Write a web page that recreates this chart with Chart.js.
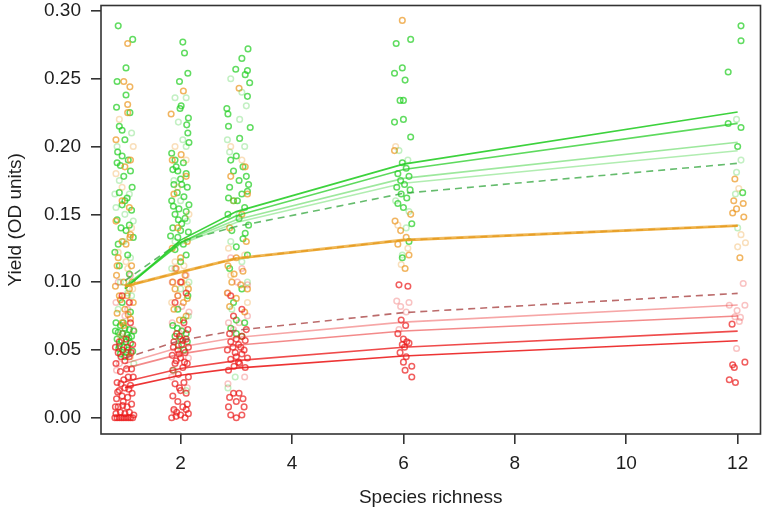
<!DOCTYPE html>
<html>
<head>
<meta charset="utf-8">
<title>Yield vs species richness</title>
<script src="https://cdn.jsdelivr.net/npm/chart.js@4.4.1/dist/chart.umd.min.js"></script>
<style>
  html, body { margin: 0; padding: 0; background: #fff; }
  #wrap { width: 766px; height: 509px; }
</style>
</head>
<body>
<div id="wrap"><canvas id="grafico"></canvas></div>
<script>
// Niveis de riqueza (eixo x) e marcas dos eixos
const richness = [1, 2, 3, 6, 12];
const xTicks = [2, 4, 6, 8, 10, 12];
const yTicks = [0, 0.05, 0.10, 0.15, 0.20, 0.25, 0.30];

// Curvas ajustadas (valor em cada nivel de riqueza)
const greenFit1 = [0.095, 0.131, 0.152, 0.187, 0.2254];
const greenFit2 = [0.0955, 0.129, 0.149, 0.183, 0.2171];
const greenFit3 = [0.097, 0.129, 0.146, 0.1765, 0.2031];
const greenFit4 = [0.097, 0.128, 0.144, 0.1729, 0.1969];
const greenFitDashed = [0.101, 0.130, 0.141, 0.1655, 0.1876];
const orangeFit1 = [0.0965, 0.107, 0.117, 0.1305, 0.1412];
const orangeFit2 = [0.0975, 0.108, 0.118, 0.1315, 0.1420];
const orangeFitDashed = [0.097, 0.1075, 0.1175, 0.131, 0.1416];
const redFit1 = [0.040, 0.0521, 0.0592, 0.0705, 0.0831];
const redFit2 = [0.0364, 0.0471, 0.0534, 0.064, 0.0750];
const redFit3 = [0.0265, 0.0363, 0.0421, 0.052, 0.0639];
const redFit4 = [0.0224, 0.0313, 0.0366, 0.0455, 0.0568];
const redFitDashed = [0.044, 0.057, 0.0645, 0.0775, 0.0917];

// Observacoes (x com jitter, y)
const greenStrong = [
  [0.88,0.289],[1.14,0.279],[1.02,0.258],[0.86,0.248],[1.02,0.238],[0.85,0.229],[1.09,0.225],[0.9,0.215],
  [0.95,0.212],[1.0,0.205],[0.87,0.196],[0.95,0.193],[1.06,0.19],[0.92,0.186],[1.1,0.182],[0.98,0.178],
  [1.13,0.17],[0.9,0.166],[1.04,0.162],[0.95,0.157],[1.12,0.153],[0.86,0.146],[0.93,0.14],[1.02,0.138],
  [1.15,0.133],[0.88,0.128],[1.05,0.12],[0.9,0.112],[1.08,0.106],[0.95,0.085],[1.1,0.078],
  [0.84,0.07],[0.92,0.068],[1.0,0.066],[1.08,0.065],[0.88,0.063],[0.96,0.062],[1.04,0.061],[1.12,0.06],
  [0.86,0.058],[0.94,0.057],[1.02,0.056],[1.1,0.055],[0.9,0.053],[0.98,0.052],[1.06,0.05],[1.14,0.049],
  [0.92,0.047],[1.0,0.045],[0.83,0.064],[0.97,0.07],[1.07,0.059],[1.16,0.064],[0.89,0.051],[1.03,0.048],
  [0.86,0.188],[1.0,0.16],[1.08,0.142],[0.82,0.122],
  [2.04,0.277],[2.07,0.269],[2.13,0.254],[1.98,0.248],[2.01,0.23],[1.99,0.228],[2.14,0.221],[2.11,0.216],
  [2.13,0.21],[2.15,0.203],[1.84,0.195],[1.9,0.19],[2.05,0.188],[1.86,0.183],[1.95,0.182],[2.1,0.18],
  [2.0,0.176],[1.88,0.172],[2.12,0.17],[1.94,0.166],[2.06,0.163],[1.84,0.16],[2.15,0.157],[1.97,0.154],
  [1.9,0.15],[2.08,0.147],[2.02,0.143],[1.86,0.14],[2.14,0.137],[1.95,0.133],[2.05,0.128],[1.9,0.124],
  [2.1,0.12],[2.0,0.115],[2.13,0.09],[1.95,0.08],[2.05,0.072],[1.92,0.185],[2.02,0.172],[1.87,0.156],
  [2.1,0.152],[1.96,0.146],[1.82,0.134],[2.0,0.138],
  [1.86,0.068],[1.94,0.066],[2.02,0.064],[2.1,0.062],[1.9,0.06],[2.0,0.058],[2.12,0.056],[1.96,0.053],[2.06,0.05],
  [3.21,0.272],[3.1,0.265],[2.99,0.257],[3.2,0.256],[3.16,0.253],[3.24,0.247],[3.2,0.237],[2.83,0.228],
  [2.85,0.224],[2.86,0.215],[3.25,0.214],[3.06,0.206],[3.0,0.193],[2.9,0.19],[3.12,0.185],[2.95,0.182],
  [3.18,0.178],[3.05,0.175],[2.88,0.17],[3.2,0.167],[3.1,0.165],[2.95,0.16],[3.15,0.155],[2.85,0.15],
  [3.05,0.147],[3.22,0.142],[2.92,0.138],[3.12,0.132],[3.0,0.126],[3.2,0.12],[2.88,0.11],[3.1,0.095],
  [2.95,0.085],[3.15,0.07],[2.9,0.066],[3.0,0.062],[3.1,0.06],[3.22,0.172],[3.02,0.16],[2.86,0.162],
  [3.16,0.136],[3.0,0.072],
  [5.87,0.276],[6.13,0.279],[5.84,0.254],[5.98,0.258],[6.03,0.249],[5.94,0.234],[6.0,0.234],[5.84,0.218],
  [6.0,0.22],[6.13,0.207],[5.98,0.188],[6.05,0.184],[5.9,0.18],[6.1,0.178],[5.95,0.175],[6.02,0.172],
  [5.88,0.17],[6.12,0.168],[5.96,0.165],[6.06,0.162],[5.9,0.158],[6.0,0.155],[6.15,0.143],[6.1,0.13],[5.98,0.118],
  [12.06,0.289],[12.06,0.278],[11.83,0.255],[11.83,0.217],[12.06,0.214],[12.0,0.2],[12.09,0.166]
];
const greenFaint = [
  [0.86,0.2],[1.12,0.21],[0.9,0.175],[1.08,0.165],[0.84,0.155],[1.15,0.145],[0.98,0.13],[1.1,0.118],
  [0.92,0.1],[1.05,0.092],[0.82,0.165],[1.0,0.15],[1.12,0.09],[0.88,0.08],[1.16,0.04],
  [1.9,0.236],[2.1,0.236],[1.96,0.218],[2.1,0.2],[1.88,0.175],[2.0,0.16],[2.12,0.145],[1.9,0.13],
  [2.15,0.1],[1.88,0.035],[2.1,0.02],[2.04,0.205],[1.84,0.11],[2.0,0.095],[2.14,0.075],
  [2.9,0.25],[3.18,0.23],[3.06,0.22],[2.88,0.196],[3.15,0.2],[3.05,0.15],[2.9,0.13],[3.2,0.1],
  [2.85,0.022],[2.98,0.03],[3.1,0.24],[2.84,0.205],[3.1,0.115],[2.92,0.08],
  [5.92,0.197],[6.08,0.19],[5.86,0.16],[6.05,0.14],[5.98,0.12],[6.1,0.152],
  [11.98,0.22],[12.06,0.19],[11.98,0.181],[11.96,0.165],[12.0,0.14]
];
const orangeStrong = [
  [1.05,0.276],[0.98,0.248],[1.09,0.244],[1.05,0.231],[1.05,0.225],[0.84,0.205],[1.1,0.19],[1.0,0.185],
  [0.95,0.16],[1.08,0.155],[0.84,0.145],[1.1,0.135],[0.95,0.13],[1.02,0.128],[0.88,0.118],[1.12,0.112],
  [0.85,0.105],[0.98,0.1],[1.08,0.095],[0.9,0.09],[1.15,0.085],[1.0,0.08],[0.86,0.077],[1.1,0.073],[0.95,0.07],
  [0.83,0.097],[0.92,0.087],[1.04,0.09],[1.13,0.1],[0.86,0.112],[1.06,0.076],[0.98,0.068],[1.09,0.133],
  [2.05,0.241],[1.83,0.224],[2.01,0.194],[1.85,0.19],[2.1,0.178],[1.88,0.165],[1.95,0.14],[2.12,0.13],
  [1.85,0.125],[2.0,0.118],[1.92,0.11],[2.08,0.105],[1.86,0.1],[2.14,0.095],[1.95,0.09],[2.05,0.085],
  [1.88,0.08],[2.1,0.075],[1.98,0.072],[1.9,0.095],[2.12,0.088],[2.02,0.1],
  [3.05,0.243],[3.16,0.185],[2.9,0.178],[3.2,0.165],[3.1,0.15],[2.88,0.14],[3.18,0.13],[3.0,0.118],
  [2.85,0.112],[3.12,0.108],[2.92,0.1],[3.2,0.095],[3.0,0.088],[2.88,0.082],[3.15,0.078],[2.96,0.106],
  [3.08,0.098],[2.84,0.092],
  [5.98,0.293],[5.84,0.197],[6.13,0.15],[5.85,0.145],[5.95,0.138],[6.05,0.133],[5.9,0.128],[6.1,0.12],[6.03,0.11],
  [11.95,0.176],[11.93,0.16],[12.1,0.158],[11.98,0.154],[11.91,0.151],[12.11,0.148],[12.04,0.118]
];
const orangeFaint = [
  [0.9,0.22],[1.15,0.2],[0.95,0.17],[1.12,0.14],[0.88,0.122],[1.05,0.11],[0.92,0.06],[1.1,0.045],
  [0.84,0.18],[1.02,0.115],[1.14,0.095],
  [1.9,0.2],[2.1,0.19],[1.95,0.17],[2.15,0.15],[1.9,0.115],[2.12,0.098],[1.84,0.085],[2.06,0.112],
  [2.9,0.2],[3.1,0.19],[2.95,0.16],[3.15,0.12],[2.9,0.105],[3.2,0.085],[2.86,0.125],
  [5.9,0.142],[6.08,0.125],[5.96,0.113],[5.86,0.2],
  [12.02,0.169],[12.06,0.135],[12.14,0.129],[12.0,0.126]
];
const redStrong = [
  [0.82,0.0],[0.86,0.0],[0.9,0.0],[0.94,0.0],[0.98,0.0],[1.02,0.0],[1.06,0.0],[1.1,0.0],[1.14,0.0],
  [0.84,0.003],[0.92,0.004],[1.0,0.003],[1.08,0.004],[1.16,0.002],[0.88,0.008],[0.96,0.009],[1.04,0.008],
  [1.12,0.01],[0.85,0.014],[0.95,0.016],[1.05,0.015],[1.13,0.018],[0.9,0.02],[1.0,0.022],[1.1,0.024],
  [0.86,0.026],[0.98,0.028],[1.06,0.03],[0.92,0.034],[1.12,0.036],[0.84,0.04],[1.0,0.042],[1.08,0.045],
  [0.88,0.048],[0.96,0.05],[1.04,0.052],[1.14,0.054],[0.9,0.056],[1.02,0.058],[1.1,0.07],[0.95,0.09],[1.08,0.085],
  [0.83,0.052],[0.93,0.045],[1.11,0.048],[0.87,0.019],[0.97,0.012],[1.07,0.021],[0.83,0.008],[1.15,0.03],
  [0.93,0.025],[1.03,0.036],
  [1.84,0.0],[1.92,0.001],[2.0,0.002],[2.08,0.0],[2.14,0.003],[1.88,0.006],[2.04,0.008],[2.12,0.01],
  [1.95,0.012],[1.86,0.016],[2.1,0.018],[2.0,0.02],[1.9,0.025],[2.06,0.026],[2.14,0.03],[1.96,0.032],
  [1.86,0.035],[2.04,0.037],[2.12,0.04],[1.92,0.042],[2.0,0.044],[1.85,0.046],[2.08,0.048],[1.95,0.05],
  [2.14,0.052],[2.02,0.054],[1.88,0.056],[2.1,0.058],[1.98,0.06],[2.06,0.07],[1.9,0.085],[2.1,0.092],[2.0,0.1],
  [1.9,0.04],[2.07,0.041],[1.97,0.047],[1.87,0.052],[2.04,0.057],[1.93,0.062],[2.13,0.065],[1.98,0.022],
  [2.1,0.006],[1.93,0.004],
  [2.9,0.002],[3.0,0.0],[3.1,0.002],[2.86,0.008],[3.14,0.008],[2.88,0.015],[3.12,0.014],[2.95,0.018],
  [3.05,0.018],[3.0,0.012],[2.86,0.035],[2.96,0.038],[3.06,0.04],[3.16,0.037],[2.9,0.043],[3.0,0.045],
  [3.1,0.047],[3.2,0.044],[2.84,0.05],[2.94,0.052],[3.04,0.054],[3.14,0.05],[2.9,0.056],[3.0,0.058],
  [3.1,0.06],[3.18,0.065],[2.95,0.075],[3.1,0.08],[2.9,0.09],[2.98,0.048],[3.08,0.052],[3.16,0.057],
  [2.88,0.062],[3.04,0.041],
  [5.92,0.098],[6.08,0.097],[5.96,0.072],[6.04,0.068],[5.9,0.062],[6.0,0.058],[6.06,0.056],[6.1,0.055],
  [5.98,0.054],[6.02,0.052],[5.94,0.048],[6.05,0.045],[6.0,0.041],[6.03,0.035],[6.15,0.038],[6.15,0.03],
  [11.9,0.069],[11.91,0.039],[11.94,0.037],[12.13,0.041],[11.85,0.028],[11.96,0.026]
];
const redFaint = [
  [0.88,0.1],[1.05,0.08],[1.15,0.065],[0.85,0.035],[1.12,0.05],[0.95,0.062],[0.84,0.085],[1.0,0.075],
  [1.1,0.105],[0.9,0.04],
  [1.9,0.11],[2.1,0.105],[1.95,0.09],[2.15,0.078],[1.85,0.07],[2.05,0.065],[1.88,0.005],[2.12,0.022],
  [2.02,0.082],[1.85,0.1],[2.14,0.044],[1.84,0.03],
  [2.9,0.118],[3.1,0.11],[3.2,0.098],[2.85,0.092],[3.05,0.07],[2.95,0.065],[3.15,0.03],[2.85,0.025],
  [3.02,0.1],[3.2,0.075],[2.86,0.07],
  [5.88,0.086],[5.95,0.082],[6.1,0.085],[6.05,0.078],[5.92,0.065],
  [12.1,0.099],[11.85,0.083],[12.13,0.083],[11.99,0.079],[11.95,0.0745],[12.05,0.074],[12.03,0.071],[11.98,0.051]
];

// Monta dataset de pontos
function pontos(lista, cor) {
  return {
    data: lista.map(p => ({ x: p[0], y: p[1] })),
    showLine: false,
    pointRadius: 2.8,
    pointBorderWidth: 1.5,
    pointBorderColor: cor,
    pointBackgroundColor: 'rgba(255,255,255,0)',
    order: 2
  };
}

// Monta dataset de curva ajustada
function curva(valores, cor, tracejado) {
  return {
    data: richness.map((x, i) => ({ x: x, y: valores[i] })),
    showLine: true,
    borderColor: cor,
    borderWidth: 1.6,
    borderDash: tracejado ? [7, 5] : [],
    pointRadius: 0,
    tension: 0,
    order: 1
  };
}

// Moldura estilo R em volta da area do grafico
const moldura = {
  id: 'moldura',
  afterDraw(chart) {
    const a = chart.chartArea;
    const ctx = chart.ctx;
    ctx.save();
    ctx.strokeStyle = '#333';
    ctx.lineWidth = 1.6;
    ctx.strokeRect(a.left, a.top, a.right - a.left, a.bottom - a.top);
    ctx.restore();
  }
};

const fonteTicks = { family: "'Liberation Sans', Arial, sans-serif", size: 19 };
const fonteTitulo = { family: "'Liberation Sans', Arial, sans-serif", size: 19 };

new Chart(document.getElementById('grafico').getContext('2d'), {
  type: 'scatter',
  data: {
    datasets: [
      pontos(redFaint, 'rgba(235,40,40,0.28)'),
      pontos(orangeFaint, 'rgba(235,150,30,0.3)'),
      pontos(greenFaint, 'rgba(40,200,40,0.28)'),
      pontos(redStrong, 'rgba(235,25,25,0.7)'),
      pontos(orangeStrong, 'rgba(235,150,30,0.7)'),
      pontos(greenStrong, 'rgba(30,205,30,0.7)'),
      curva(orangeFit1, 'rgba(235,160,30,0.85)', false),
      curva(orangeFit2, 'rgba(235,160,30,0.7)', false),
      curva(orangeFitDashed, 'rgba(205,135,40,0.85)', true),
      curva(redFit1, 'rgba(235,60,60,0.45)', false),
      curva(redFit2, 'rgba(235,60,60,0.6)', false),
      curva(redFit3, 'rgba(235,30,30,0.8)', false),
      curva(redFit4, 'rgba(235,30,30,0.9)', false),
      curva(redFitDashed, 'rgba(170,70,70,0.8)', true),
      curva(greenFit1, 'rgba(40,205,40,0.9)', false),
      curva(greenFit2, 'rgba(40,205,40,0.75)', false),
      curva(greenFit3, 'rgba(60,210,60,0.5)', false),
      curva(greenFit4, 'rgba(60,210,60,0.4)', false),
      curva(greenFitDashed, 'rgba(50,165,60,0.75)', true)
    ]
  },
  options: {
    responsive: true,
    maintainAspectRatio: false,
    animation: false,
    events: [],
    layout: { padding: { left: 0, top: 5, right: 3, bottom: 0 } },
    plugins: { legend: { display: false }, tooltip: { enabled: false } },
    scales: {
      x: {
        type: 'linear',
        min: 0.571,
        max: 12.41,
        afterFit(scale) {
          scale.height = 75;
          scale.paddingLeft = 0;
          scale.paddingRight = 0;
        },
        afterBuildTicks(scale) { scale.ticks = xTicks.map(v => ({ value: v })); },
        border: { display: false },
        grid: { drawOnChartArea: false, drawTicks: true, tickLength: 10, color: '#333', lineWidth: 1.6 },
        ticks: { color: '#1e1e1e', font: fonteTicks, padding: 8, maxRotation: 0, callback: v => String(v) },
        title: { display: true, text: 'Species richness', color: '#1e1e1e', font: fonteTitulo, padding: { top: 0, bottom: 0 } }
      },
      y: {
        type: 'linear',
        min: -0.012,
        max: 0.304,
        afterFit(scale) {
          scale.width = 101;
          scale.paddingTop = 0;
          scale.paddingBottom = 0;
        },
        afterBuildTicks(scale) { scale.ticks = yTicks.map(v => ({ value: v })); },
        border: { display: false },
        grid: { drawOnChartArea: false, drawTicks: true, tickLength: 10, color: '#333', lineWidth: 1.6 },
        ticks: { color: '#1e1e1e', font: fonteTicks, padding: 10, callback: v => v.toFixed(2) },
        title: { display: true, text: 'Yield (OD units)', color: '#1e1e1e', font: fonteTitulo, padding: { top: 4, bottom: 0 } }
      }
    }
  },
  plugins: [moldura]
});
</script>
</body>
</html>
